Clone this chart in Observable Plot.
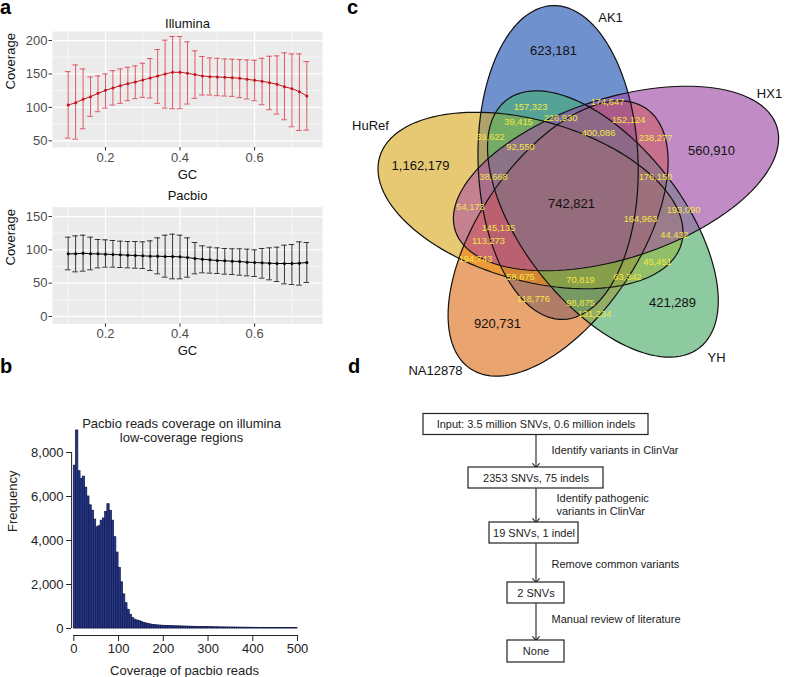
<!DOCTYPE html>
<html><head><meta charset="utf-8">
<script src="https://cdn.jsdelivr.net/npm/d3@7"></script>
<script src="https://cdn.jsdelivr.net/npm/@observablehq/plot@0.6"></script>
<style>
body{margin:0;background:#fff;font-family:"Liberation Sans",Arial,Helvetica,sans-serif;}
#fig{position:relative;width:786px;height:677px;overflow:hidden;background:#fff;}
#fig svg{position:absolute;}
</style></head><body><div id="fig"></div>
<script>
// ---------- Panel a data ----------
const gc = [0.10,0.12,0.14,0.16,0.18,0.20,0.22,0.24,0.26,0.28,0.30,0.32,0.34,0.36,0.38,0.40,0.42,0.44,0.46,0.48,0.50,0.52,0.54,0.56,0.58,0.60,0.62,0.64,0.66,0.68,0.70,0.72,0.74];
const illuminaMean = [103.5,107,112,116,121,125.5,129,132.5,135.5,138,141,144,147,150,152.5,152.5,151,149,147,146,145.5,145,144.5,143.5,142,140.5,139,137,134.5,131,128,123.5,117];
const illuminaLow  = [54,52.5,68,86.5,93.5,99,103.5,106,110,113,115,114,106,99,98,98,105,113.5,118.5,118.5,117.5,117,116.5,114.5,112.5,110,104,96.5,90,81.5,71,65.5,66];
const illuminaHigh = [153.5,163.5,157.5,145.5,147,150,155,157.5,160,162,166,173,186.5,200.5,206,206,198,184.5,176,174,173.5,172.5,172,171.5,171,170.5,173.5,176.5,177,181.5,180,180,168.5];
const pacbioMean = [94,94,95,94,94,93.5,93,92.5,92,91.5,91,90.5,90.5,90,90,89.5,88.5,87,86,85,84,83.5,83,82.5,81.5,81,80.5,80,79.5,79.5,79.5,80,81];
const pacbioLow  = [70,67,68,70,73,74,74,73.5,73,72.5,72,69,64,59,56.5,56.5,59,64,65.5,65,64.5,63.5,63,62,61,60,57.5,55,52.5,49,48,47,51];
const pacbioHigh = [119,121,122,119,115.5,115,114,113,112.5,112.5,112,113.5,118,122,123.5,122,118,111,106,104,103,102,101.5,101.5,101,100,102,103,104,107,108,112,111];
const gcTicks = [0.2,0.4,0.6];
const gcMinor = [0.1,0.3,0.5,0.7];
const illuminaTicks = [50,100,150,200];
const illuminaMinor = [75,125,175];
const pacbioTicks = [0,50,100,150];
const pacbioMinor = [25,75,125];

// ---------- Panel b data ----------
const histBinWidth = 5;
const histCounts = [7400,9000,7150,6800,6900,6400,6000,5600,5350,4950,4600,4650,4900,5000,5300,5650,5350,4900,4150,3450,
 2750,2100,1550,1150,850,620,470,400,360,330,290,250,225,200,180,165,150,140,132,125,
 120,116,112,108,104,100,97,94,91,88,85,82,80,77,74,72,70,67,65,63,
 61,59,57,55,53,51,49,47,46,44,43,41,40,39,37,36,35,34,33,32,
 31,30,29,28,28,27,26,25,25,24,23,23,22,22,21,21,20,20,19,19];
const histXTicks = [0,100,200,300,400,500];
const histYTicks = [0,2000,4000,6000,8000];

// ---------- Panel c data ----------
const setNames = ["AK1","HX1","YH","NA12878","HuRef"];
const setOnly = [623181,560910,421289,920731,1162179];
const allFive = 742821;
const overlapCounts = [157323,174647,39415,226930,152124,39622,400086,238277,92550,38668,176150,54173,145135,113273,164963,193090,44432,45451,194743,58675,70819,63342,118776,98875,131234];

// ---------- Panel d data ----------
const steps = ["Input: 3.5 million SNVs, 0.6 million indels","2353 SNVs, 75 indels","19 SNVs, 1 indel","2 SNVs","None"];
const filters = ["Identify variants in ClinVar","Identify pathogenic\nvariants in ClinVar","Remove common variants","Manual review of literature"];

// ---------- layout / style ----------
const FONT = '"Liberation Sans", Arial, Helvetica, sans-serif';
const fig = document.getElementById("fig");
function place(svg, left, top){ svg.style.left = left+"px"; svg.style.top = top+"px"; fig.appendChild(svg); }

function gcPanel({mean, low, high, yDomain, yTicks, yMinor, title, titleDy, lineColor, barColor, height, marginTop, marginBottom}) {
  const rows = gc.map((g,i)=>({g, m: mean[i], lo: low[i], hi: high[i]}));
  const cap = 0.0075;
  return Plot.plot({
    width: 340, height, marginLeft: 52, marginRight: 18, marginTop, marginBottom,
    x: {domain: [0.058, 0.782], axis: null, label: null},
    y: {domain: yDomain, axis: null, label: null},
    style: {fontFamily: FONT, fontSize: "13px", color: "#333", background: "none", overflow: "visible"},
    marks: [
      Plot.frame({fill: "#ebebeb", stroke: "none"}),
      Plot.gridX({ticks: gcMinor, stroke: "#fff", strokeOpacity: 1, strokeWidth: 0.6}),
      Plot.gridY({ticks: yMinor, stroke: "#fff", strokeOpacity: 1, strokeWidth: 0.6}),
      Plot.gridX({ticks: gcTicks, stroke: "#fff", strokeOpacity: 1, strokeWidth: 1.2}),
      Plot.gridY({ticks: yTicks, stroke: "#fff", strokeOpacity: 1, strokeWidth: 1.2}),
      Plot.ruleX(rows, {x: "g", y1: "lo", y2: "hi", stroke: barColor, strokeWidth: 0.9}),
      Plot.ruleY(rows, {y: "lo", x1: d=>d.g-cap, x2: d=>d.g+cap, stroke: barColor, strokeWidth: 0.9}),
      Plot.ruleY(rows, {y: "hi", x1: d=>d.g-cap, x2: d=>d.g+cap, stroke: barColor, strokeWidth: 0.9}),
      Plot.line(rows, {x: "g", y: "m", stroke: lineColor, strokeWidth: 1}),
      Plot.dot(rows, {x: "g", y: "m", r: 1.5, fill: lineColor, stroke: "none"}),
      Plot.axisX({ticks: gcTicks, tickSize: 3.5, tickPadding: 1.5, label: null, stroke: "#333", fill: "#4d4d4d"}),
      Plot.axisY({ticks: yTicks, tickSize: 3.5, tickPadding: 1.5, label: null, stroke: "#333", fill: "#4d4d4d"}),
      Plot.text([title], {frameAnchor: "top", dy: titleDy, lineAnchor: "middle", fill: "#111", fontSize: 13}),
      Plot.text(["GC"], {frameAnchor: "bottom", dy: 27, lineAnchor: "middle", fill: "#111", fontSize: 13}),
      Plot.text(["Coverage"], {frameAnchor: "left", dx: -42, rotate: -90, lineAnchor: "middle", fill: "#111", fontSize: 13})
    ]
  });
}

place(gcPanel({mean: illuminaMean, low: illuminaLow, high: illuminaHigh, yDomain: [40, 213.5], yTicks: illuminaTicks, yMinor: illuminaMinor,
  title: "Illumina", titleDy: -8, lineColor: "#c4161c", barColor: "#dc4a55", height: 180, marginTop: 31, marginBottom: 33}), 0, 0);

place(gcPanel({mean: pacbioMean, low: pacbioLow, high: pacbioHigh, yDomain: [-11, 164], yTicks: pacbioTicks, yMinor: pacbioMinor,
  title: "Pacbio", titleDy: -11.5, lineColor: "#000", barColor: "#222", height: 185, marginTop: 31.7, marginBottom: 36.7}), 0, 175);

// ---------- Panel b ----------
const bins = histCounts.map((c,i)=>({x0: i*histBinWidth, x1: (i+1)*histBinWidth, c}));
const histXDomain = [-5, 500];
const histYDomain = [-318, 9100];
place(Plot.plot({
  width: 360, height: 337, marginLeft: 71.1, marginRight: 63, marginTop: 87.8, marginBottom: 42,
  x: {domain: histXDomain, axis: null}, y: {domain: histYDomain, axis: null},
  style: {fontFamily: FONT, fontSize: "13px", color: "#222", background: "none", overflow: "visible"},
  marks: [
    Plot.rectY(bins, {x1: "x0", x2: "x1", y: "c", fill: "#27398c", stroke: "#141a4a", strokeWidth: 0.8, inset: 0}),
    Plot.ruleX([histXDomain[0]], {y1: histYTicks[0], y2: histYTicks[histYTicks.length-1], stroke: "#222"}),
    Plot.ruleY([histYDomain[0]], {x1: histXTicks[0], x2: histXTicks[histXTicks.length-1], stroke: "#222"}),
    Plot.axisY({ticks: histYTicks, tickSize: 5, tickPadding: 3, tickFormat: d3.format(","), label: null}),
    Plot.axisX({ticks: histXTicks, tickSize: 6, tickPadding: 2, label: null}),
    Plot.text(["Pacbio reads coverage on illumina\nlow-coverage regions"], {frameAnchor: "top", dy: 2.2, lineAnchor: "middle", lineHeight: 1.08, fontSize: 13, fill: "#222", dx: -3}),
    Plot.text(["Frequency"], {frameAnchor: "left", dx: -59, rotate: -90, lineAnchor: "middle", fontSize: 13, fill: "#222"}),
    Plot.text(["Coverage of pacbio reads"], {frameAnchor: "bottom", dy: 35, lineAnchor: "middle", fontSize: 13, fill: "#222"})
  ]
}), 0, 340);

// ---------- Panel c (Venn) ----------
// ellipse geometry per set (diagram units = page pixels): centre, semi-axes, axis angle
const vennEllipses = [
  {cx: 557.6, cy: 162.0, a: 157, b: 80, angle: -92},   // AK1
  {cx: 615.5, cy: 178.0, a: 169, b: 80, angle: -18},   // HX1
  {cx: 602.4, cy: 223.5, a: 157, b: 80, angle: 52},    // YH
  {cx: 557.6, cy: 238.0, a: 157, b: 80, angle: 124},   // NA12878
  {cx: 530.0, cy: 200.0, a: 157, b: 80, angle: 196}    // HuRef
];
const vennFill = ["#0044bc","#a43aab","#3cb65f","#f56900","#f0b40a"];
const vennDrawOrder = [0,4,3,2,1];
const rad = Math.PI/180;
function ellipseOutline(k){
  const e = vennEllipses[k], phi = e.angle*rad;
  const pts = [];
  for (let t = 0; t < 360; t += 3) {
    const ct = Math.cos(t*rad), st = Math.sin(t*rad);
    pts.push({x: e.cx + e.a*ct*Math.cos(phi) - e.b*st*Math.sin(phi), y: e.cy + e.a*ct*Math.sin(phi) + e.b*st*Math.cos(phi)});
  }
  return pts;
}
const setOnlyPos = [[553,50],[711,150],[672,302],[497,323],[420,165]];
const centerPos = [571,203];
const setLabelPos = [[610,17],[769,93],[716,357],[435,370],[370,125]];
const overlapPos = [[530,107],[607,102],[518,122],[560,118],[628,120],[490,137],[598,133],[655,138],[520,147],[493,177],[655,177],[470,207],[498,228],[488,241],[640,219],[683,210],[674,235],[657,262],[475,259],[520,277],[580,280],[627,277],[533,299],[580,303],[594,314]];
const fmt = d3.format(",");
const blackLabels = setOnly.map((v,i)=>({x: setOnlyPos[i][0], y: setOnlyPos[i][1], t: fmt(v)})).concat([{x: centerPos[0], y: centerPos[1], t: fmt(allFive)}]);
const nameLabels = setNames.map((n,i)=>({x: setLabelPos[i][0], y: setLabelPos[i][1], t: n}));
const yellowLabels = overlapCounts.map((v,i)=>({x: overlapPos[i][0], y: overlapPos[i][1], t: fmt(v)}));
const vennMarks = [];
vennDrawOrder.forEach(k => vennMarks.push(Plot.line(ellipseOutline(k), {x: "x", y: "y", curve: "linear-closed", fill: "#dedede", stroke: "none"})));
vennDrawOrder.forEach(k => vennMarks.push(Plot.line(ellipseOutline(k), {x: "x", y: "y", curve: "linear-closed", fill: vennFill[k], fillOpacity: 0.5, stroke: "none"})));
vennDrawOrder.forEach(k => vennMarks.push(Plot.line(ellipseOutline(k), {x: "x", y: "y", curve: "linear-closed", stroke: "#111", strokeWidth: 1.2, fill: "none"})));
vennMarks.push(Plot.text(yellowLabels, {x: "x", y: "y", text: "t", fill: "#f4e640", fontSize: 9.3}));
vennMarks.push(Plot.text(blackLabels, {x: "x", y: "y", text: "t", fill: "#111", fontSize: 13}));
vennMarks.push(Plot.text(nameLabels, {x: "x", y: "y", text: "t", fill: "#111", fontSize: 13}));
place(Plot.plot({
  width: 436, height: 400, margin: 0,
  x: {domain: [350, 786], axis: null}, y: {domain: [400, 0], axis: null},
  style: {fontFamily: FONT, background: "none", overflow: "visible"},
  marks: vennMarks
}), 350, 0);

// ---------- Panel d (flowchart) ----------
const stepBoxes = [[423,648,413.5,434.5],[468,603,467,488],[489,578,522,543],[507,564,582,603],[507,564,640,662]];
const filterPos = [[551,449],[556,503.5],[551,563],[551,618]];
const flowX = 535.5;
const boxRows = steps.map((s,i)=>({s, x1: stepBoxes[i][0], x2: stepBoxes[i][1], y1: stepBoxes[i][2], y2: stepBoxes[i][3]}));
const arrowRows = boxRows.slice(1).map((b,i)=>({y1: boxRows[i].y2, y2: b.y1}));
const filterRows = filters.map((f,i)=>({f, x: filterPos[i][0], y: filterPos[i][1]}));
place(Plot.plot({
  width: 386, height: 277, margin: 0,
  x: {domain: [400, 786], axis: null}, y: {domain: [677, 400], axis: null},
  style: {fontFamily: FONT, background: "none", overflow: "visible"},
  marks: [
    Plot.arrow(arrowRows, {x1: flowX, x2: flowX, y1: "y1", y2: "y2", stroke: "#222", strokeWidth: 1.1, headAngle: 80, headLength: 7}),
    Plot.rect(boxRows, {x1: "x1", x2: "x2", y1: "y1", y2: "y2", fill: "#fff", stroke: "#222", strokeWidth: 1.2}),
    Plot.text(boxRows, {x: d=>(d.x1+d.x2)/2, y: d=>(d.y1+d.y2)/2, text: "s", fontSize: 11, fill: "#222", lineAnchor: "middle"}),
    Plot.text(filterRows, {x: "x", y: "y", text: "f", fontSize: 11, fill: "#222", textAnchor: "start", lineAnchor: "middle", lineHeight: 1.18})
  ]
}), 400, 400);

// ---------- panel letters ----------
const letters = document.createElementNS("http://www.w3.org/2000/svg","svg");
letters.setAttribute("width", 786); letters.setAttribute("height", 677);
letters.style.left = "0px"; letters.style.top = "0px"; letters.style.pointerEvents = "none";
[["a",0,14],["c",347,14],["b",0,373],["d",348,373]].forEach(([l,x,y])=>{
  const t = document.createElementNS("http://www.w3.org/2000/svg","text");
  t.setAttribute("x", x); t.setAttribute("y", y);
  t.setAttribute("font-family", FONT); t.setAttribute("font-weight", "bold"); t.setAttribute("font-size", 20);
  t.textContent = l; letters.appendChild(t);
});
fig.appendChild(letters);
</script>
</body></html>
